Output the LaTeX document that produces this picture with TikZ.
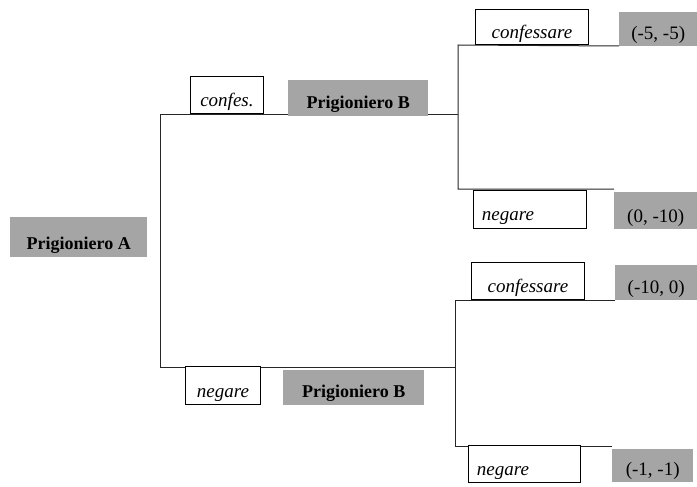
\documentclass[tikz,border=0pt]{standalone}
\usepackage{fontspec}
\setmainfont{Liberation Serif}
\usetikzlibrary{positioning}
\definecolor{scangray}{RGB}{165,165,165}

\tikzset{
  move/.style={draw, line width=0.9pt, fill=white, inner sep=0pt, anchor=south west,
               text depth=7pt, font=\fontsize{19}{21}\selectfont\itshape},
  player/.style={fill=scangray, inner sep=0pt, anchor=south west,
               text depth=7pt, font=\fontsize{18}{20}\selectfont\bfseries},
  payoff/.style={fill=scangray, inner sep=0pt, anchor=south west,
               text depth=6pt, font=\fontsize{19}{21}\selectfont},
  branch/.style={line width=1pt, black!85},
}

\begin{document}
\begin{tikzpicture}[x=1pt, y=-1pt]
  \useasboundingbox (0,0) rectangle (697,487);

  % tree corners
  \coordinate (aT) at (160,115);
  \coordinate (aB) at (160,367);
  \coordinate (bT) at (458,45);
  \coordinate (bB) at (458,189);
  \coordinate (cT) at (455,300);
  \coordinate (cB) at (455,446);

  % first player
  \node[player, minimum width=137pt, text height=33pt] (pA) at (10,257) {Prigioniero A};

  % payoffs
  \node[payoff, minimum width=78pt, text height=28pt] (p1) at (619,46) {(-5, -5)};
  \node[payoff, minimum width=83pt, text height=31pt] (p2) at (614,229) {(0, -10)};
  \node[payoff, minimum width=82pt, text height=29pt] (p3) at (615,300) {(-10, 0)};
  \node[payoff, minimum width=81pt, text height=27pt] (p4) at (612,482) {(-1, -1)};

  % branches
  \draw[branch] (aT) -- (aB) -- (cT |- aB);
  \draw[branch] (aT) -- (bT |- aT);
  \draw[branch] (p1.south west) -- (bT) -- (bB) -- (p2.north west |- bB);
  \draw[branch] (p3.south west) -- (cT) -- (cB) -- (p4.north west |- cB);

  % second player
  \node[player, minimum width=140pt, text height=29pt] (pB1) at (288,116) {Prigioniero B};
  \node[player, minimum width=141pt, text height=28pt] (pB2) at (283,405) {Prigioniero B};

  % moves
  \node[move, minimum width=73pt, text height=30pt] (m1) at (190,114) {confes.};
  \node[move, minimum width=75pt, text height=31pt] (m2) at (185,405) {negare};
  \node[move, minimum width=113pt, text height=29pt, text depth=6pt] (m3) at (475,45) {confessare};
  \node[move, minimum width=113pt, text height=30pt, text depth=8pt, text width=96pt, align=left] (m4) at (473,229) {negare};
  \node[move, minimum width=113pt, text height=30pt] (m5) at (471,300) {confessare};
  \node[move, minimum width=112pt, text height=30pt, text width=95pt, align=left] (m6) at (468,483) {negare};
\end{tikzpicture}
\end{document}
